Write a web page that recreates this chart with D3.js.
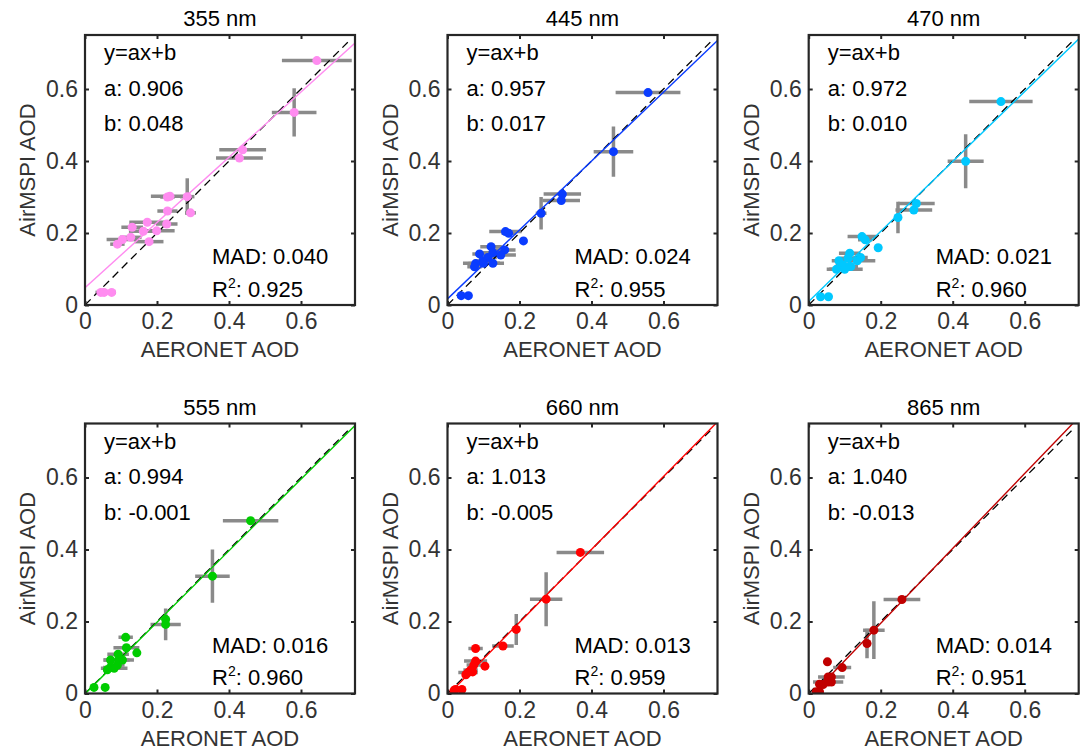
<!DOCTYPE html>
<html>
<head>
<meta charset="utf-8">
<script src="https://cdn.jsdelivr.net/npm/d3@7"></script>
<style>
  html, body { margin: 0; padding: 0; background: #fff; }
  svg { display: block; font-family: "Liberation Sans", Arial, Helvetica, sans-serif; }
</style>
</head>
<body>
<svg id="chart" width="1084" height="750"></svg>
<script>
// ---------------- data ----------------
const wavelengths = ["355 nm", "445 nm", "470 nm", "555 nm", "660 nm", "865 nm"];
const seriesColors = ["#ff8cf0", "#0a3cff", "#00c8ff", "#00cc00", "#ff0000", "#c00000"];
const slopes = [0.906, 0.957, 0.972, 0.994, 1.013, 1.040];
const intercepts = [0.048, 0.017, 0.010, -0.001, -0.005, -0.013];
const slopeLabels = ["0.906", "0.957", "0.972", "0.994", "1.013", "1.040"];
const interceptLabels = ["0.048", "0.017", "0.010", "-0.001", "-0.005", "-0.013"];
const madLabels = ["0.040", "0.024", "0.021", "0.016", "0.013", "0.014"];
const r2Labels = ["0.925", "0.955", "0.960", "0.960", "0.959", "0.951"];
const tickValues = [0, 0.2, 0.4, 0.6];
const axisDomain = [0, 0.75];
const oneToOne = [0, 0.73];

// each point: [AERONET AOD, AirMSPI AOD, AERONET uncertainty, AirMSPI uncertainty]
const pts355 = [
  [0.644, 0.679, 0.097, 0.006], [0.581, 0.535, 0.062, 0.067], [0.438, 0.431, 0.065, 0.008],
  [0.429, 0.408, 0.065, 0.008], [0.284, 0.301, 0.020, 0.051], [0.236, 0.302, 0.053, 0.008],
  [0.229, 0.300, 0.020, 0.008], [0.293, 0.256, 0.015, 0.008], [0.229, 0.261, 0.028, 0.008],
  [0.227, 0.225, 0.030, 0.008], [0.173, 0.230, 0.050, 0.008], [0.131, 0.216, 0.030, 0.008],
  [0.162, 0.205, 0.040, 0.008], [0.199, 0.206, 0.050, 0.008], [0.127, 0.188, 0.030, 0.008],
  [0.104, 0.182, 0.044, 0.008], [0.090, 0.169, 0.020, 0.008], [0.178, 0.176, 0.040, 0.008],
  [0.044, 0.035, 0.015, 0.004], [0.053, 0.035, 0.015, 0.004], [0.074, 0.035, 0.012, 0.004]
];
const pts445 = [
  [0.557, 0.590, 0.090, 0.006], [0.461, 0.426, 0.055, 0.070], [0.319, 0.308, 0.052, 0.008],
  [0.316, 0.290, 0.052, 0.008], [0.260, 0.255, 0.015, 0.045], [0.161, 0.204, 0.045, 0.008],
  [0.170, 0.199, 0.020, 0.008], [0.211, 0.178, 0.010, 0.005], [0.159, 0.153, 0.030, 0.008],
  [0.148, 0.139, 0.042, 0.008], [0.121, 0.162, 0.030, 0.008], [0.126, 0.145, 0.030, 0.008],
  [0.089, 0.142, 0.020, 0.008], [0.112, 0.132, 0.025, 0.008], [0.098, 0.122, 0.020, 0.008],
  [0.100, 0.116, 0.057, 0.008], [0.126, 0.116, 0.020, 0.008], [0.078, 0.115, 0.020, 0.008],
  [0.075, 0.106, 0.020, 0.008], [0.038, 0.026, 0.010, 0.004], [0.058, 0.026, 0.010, 0.004]
];
const pts470 = [
  [0.534, 0.565, 0.088, 0.006], [0.436, 0.399, 0.050, 0.075], [0.299, 0.282, 0.051, 0.008],
  [0.292, 0.264, 0.051, 0.008], [0.248, 0.243, 0.010, 0.044], [0.148, 0.190, 0.040, 0.008],
  [0.157, 0.181, 0.020, 0.008], [0.193, 0.159, 0.010, 0.005], [0.144, 0.132, 0.020, 0.008],
  [0.135, 0.123, 0.050, 0.008], [0.114, 0.144, 0.030, 0.008], [0.109, 0.130, 0.020, 0.008],
  [0.084, 0.123, 0.020, 0.008], [0.095, 0.111, 0.020, 0.008], [0.117, 0.107, 0.020, 0.008],
  [0.077, 0.099, 0.020, 0.008], [0.100, 0.099, 0.050, 0.008], [0.033, 0.023, 0.010, 0.004],
  [0.055, 0.023, 0.010, 0.004]
];
const pts555 = [
  [0.460, 0.480, 0.077, 0.006], [0.354, 0.326, 0.048, 0.074], [0.224, 0.206, 0.010, 0.008],
  [0.224, 0.192, 0.042, 0.044], [0.113, 0.156, 0.020, 0.005], [0.115, 0.127, 0.036, 0.008],
  [0.144, 0.113, 0.010, 0.005], [0.092, 0.109, 0.030, 0.008], [0.104, 0.093, 0.020, 0.008],
  [0.071, 0.093, 0.020, 0.008], [0.094, 0.093, 0.042, 0.008], [0.090, 0.079, 0.020, 0.008],
  [0.070, 0.072, 0.020, 0.008], [0.081, 0.070, 0.037, 0.008], [0.062, 0.066, 0.010, 0.008],
  [0.025, 0.017, 0.010, 0.004], [0.056, 0.017, 0.005, 0.004]
];
const pts660 = [
  [0.369, 0.392, 0.066, 0.006], [0.274, 0.262, 0.045, 0.075], [0.191, 0.178, 0.010, 0.043],
  [0.154, 0.132, 0.030, 0.005], [0.078, 0.125, 0.020, 0.005], [0.104, 0.076, 0.010, 0.005],
  [0.078, 0.090, 0.032, 0.008], [0.073, 0.079, 0.020, 0.008], [0.064, 0.065, 0.020, 0.008],
  [0.070, 0.060, 0.010, 0.008], [0.057, 0.058, 0.027, 0.008], [0.051, 0.052, 0.010, 0.008],
  [0.022, 0.011, 0.005, 0.004], [0.040, 0.011, 0.005, 0.004], [0.018, 0.008, 0.005, 0.004]
];
const pts865 = [
  [0.259, 0.261, 0.051, 0.005], [0.181, 0.176, 0.030, 0.080], [0.162, 0.139, 0.010, 0.041],
  [0.093, 0.072, 0.025, 0.005], [0.052, 0.088, 0.005, 0.005], [0.054, 0.046, 0.010, 0.008],
  [0.063, 0.046, 0.037, 0.008], [0.063, 0.032, 0.010, 0.008], [0.054, 0.032, 0.042, 0.008],
  [0.040, 0.025, 0.010, 0.008], [0.030, 0.026, 0.010, 0.004], [0.054, 0.037, 0.015, 0.008],
  [0.021, 0.005, 0.005, 0.004], [0.030, 0.005, 0.005, 0.004]
];
const panelPoints = [pts355, pts445, pts470, pts555, pts660, pts865];

// ---------------- layout ----------------
const colLefts = [85, 447.5, 808.7];
const rowTops = [35, 423.5];
const side = 270;
const fontSize = 22;
const tickFontSize = 23;
const boxColor = "#262626";

const svg = d3.select("#chart");
const defs = svg.append("defs");

wavelengths.forEach((wl, i) => {
  const left = colLefts[i % 3], top = rowTops[Math.floor(i / 3)];
  const x = d3.scaleLinear().domain(axisDomain).range([0, side]);
  const y = d3.scaleLinear().domain(axisDomain).range([side, 0]);
  const g = svg.append("g").attr("transform", `translate(${left},${top})`);

  defs.append("clipPath").attr("id", "clip" + i)
    .append("rect").attr("x", 0).attr("y", 0).attr("width", side).attr("height", side);

  const plot = g.append("g").attr("clip-path", `url(#clip${i})`);
  const pts = panelPoints[i];

  // error bars
  const eb = plot.append("g").attr("stroke", "#8a8a8a").attr("stroke-width", 3.5);
  eb.selectAll("line.h").data(pts).join("line").attr("class", "h")
    .attr("x1", d => x(d[0] - d[2])).attr("x2", d => x(d[0] + d[2]))
    .attr("y1", d => y(d[1])).attr("y2", d => y(d[1]));
  eb.selectAll("line.v").data(pts).join("line").attr("class", "v")
    .attr("x1", d => x(d[0])).attr("x2", d => x(d[0]))
    .attr("y1", d => y(d[1] - d[3])).attr("y2", d => y(d[1] + d[3]));

  // 1:1 line
  plot.append("line")
    .attr("x1", x(oneToOne[0])).attr("y1", y(oneToOne[0]))
    .attr("x2", x(oneToOne[1])).attr("y2", y(oneToOne[1]))
    .attr("stroke", "#000").attr("stroke-width", 1.3).attr("stroke-dasharray", "8,5");

  // points
  plot.selectAll("circle").data(pts).join("circle")
    .attr("cx", d => x(d[0])).attr("cy", d => y(d[1])).attr("r", 4.5)
    .attr("fill", seriesColors[i]);

  // fit line
  const fit = axisDomain.map(v => [v, slopes[i] * v + intercepts[i]]);
  plot.append("path").datum(fit)
    .attr("d", d3.line().x(d => x(d[0])).y(d => y(d[1])))
    .attr("fill", "none").attr("stroke", seriesColors[i]).attr("stroke-width", 1.4);

  // axes (inward ticks on all four sides)
  const fmt = d => d === 0 ? "0" : d3.format(".1f")(d);
  const ax = g.append("g").attr("transform", `translate(0,${side})`)
    .call(d3.axisBottom(x).tickValues(tickValues).tickFormat(fmt).tickSize(-4).tickPadding(7));
  const ay = g.append("g")
    .call(d3.axisLeft(y).tickValues(tickValues).tickFormat(fmt).tickSize(-4).tickPadding(7));
  const at = g.append("g")
    .call(d3.axisTop(x).tickValues(tickValues).tickFormat("").tickSize(-4));
  const ar = g.append("g").attr("transform", `translate(${side},0)`)
    .call(d3.axisRight(y).tickValues(tickValues).tickFormat("").tickSize(-4));
  [ax, ay, at, ar].forEach(a => {
    a.select(".domain").remove();
    a.selectAll(".tick line").attr("stroke", boxColor).attr("stroke-width", 2);
    a.selectAll(".tick text").attr("fill", "#333").style("font-size", tickFontSize + "px")
      .style("font-family", "'Liberation Sans', Arial, sans-serif");
  });
  ax.selectAll(".tick text").attr("dy", null).attr("y", 24);

  // box
  g.append("rect").attr("x", 0).attr("y", 0).attr("width", side).attr("height", side)
    .attr("fill", "none").attr("stroke", boxColor).attr("stroke-width", 2.2);

  // title
  g.append("text").attr("x", side / 2).attr("y", -9).attr("text-anchor", "middle")
    .attr("fill", "#000").style("font-size", fontSize + "px").text(wl);

  // axis labels
  g.append("text").attr("x", side / 2).attr("y", side + 52).attr("text-anchor", "middle")
    .attr("fill", "#333").style("font-size", fontSize + "px").text("AERONET AOD");
  g.append("text").attr("transform", `translate(-50,${side / 2}) rotate(-90)`)
    .attr("text-anchor", "middle").attr("fill", "#333").style("font-size", fontSize + "px")
    .text("AirMSPI AOD");

  // annotations
  const ann = g.append("g").attr("fill", "#000").style("font-size", fontSize + "px");
  ann.append("text").attr("x", 19).attr("y", 25).text("y=ax+b");
  ann.append("text").attr("x", 19).attr("y", 60.5).text("a: " + slopeLabels[i]);
  ann.append("text").attr("x", 19).attr("y", 96).text("b: " + interceptLabels[i]);
  ann.append("text").attr("x", 127).attr("y", side - 41).text("MAD: " + madLabels[i]);
  const r2 = ann.append("text").attr("x", 127).attr("y", side - 8.5);
  r2.append("tspan").text("R");
  r2.append("tspan").attr("dy", -9).style("font-size", "14px").text("2");
  r2.append("tspan").attr("dy", 9).text(": " + r2Labels[i]);
});
</script>
</body>
</html>
